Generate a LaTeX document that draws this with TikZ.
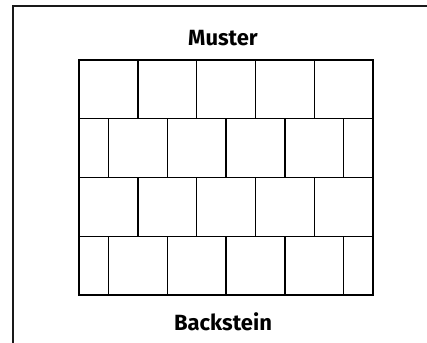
\documentclass[tikz,border=0pt]{standalone}
\usepackage{fontspec}
\setmainfont{Fira Sans}
\begin{document}
\begin{tikzpicture}[x=1pt,y=-1pt,
  frame/.style={line width=2pt,black!90},
  wall/.style={line width=2.8pt},
  joint/.style={line width=1.4pt},
  lbl/.style={font=\fontsize{22}{24}\selectfont\bfseries,inner sep=0pt}]
\useasboundingbox (0,0) rectangle (427,342);
\fill[white] (0,0) rectangle (427,342);
\draw[frame] (428,6) -- (13,6) -- (13,343);
\def\xa{79}\def\xb{373}\def\ya{60}\def\yb{295}
% horizontal joints
\foreach \r in {1,2,3}
  \draw[joint] (\xa,{\ya+\r*58.75}) -- (\xb,{\ya+\r*58.75});
% vertical joints rows 1 and 3
\foreach \r in {0,2}
  \foreach \k in {1,...,4}
    \draw[joint] ({\xa+\k*58.8},{\ya+\r*58.75}) -- ({\xa+\k*58.8},{\ya+(\r+1)*58.75});
% vertical joints rows 2 and 4
\foreach \r in {1,3}
  \foreach \k in {0,...,4}
    \draw[joint] ({\xa+29.4+\k*58.8},{\ya+\r*58.75}) -- ({\xa+29.4+\k*58.8},{\ya+(\r+1)*58.75});
\draw[wall] (\xa,\ya) rectangle (\xb,\yb);
\node[lbl] (muster) at (223,38) {Muster};
\node[lbl] (backstein) at (223,322) {Backstein};
\end{tikzpicture}
\end{document}
